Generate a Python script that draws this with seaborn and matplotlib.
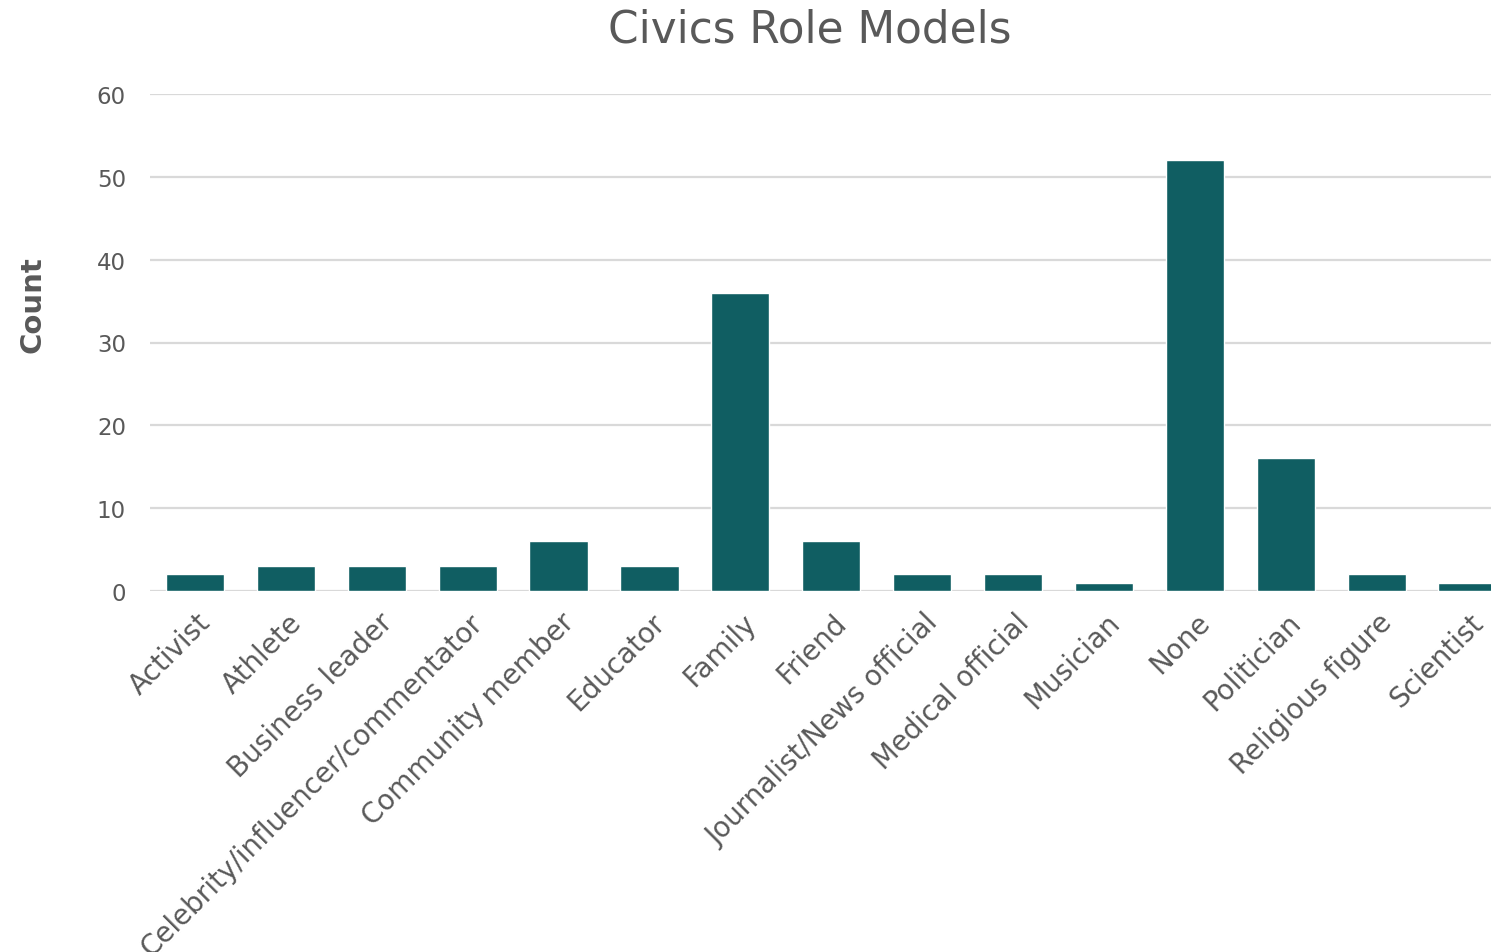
import pandas as pd
import matplotlib
matplotlib.use("Agg")
import matplotlib.pyplot as plt
import matplotlib.transforms as mtransforms
import seaborn as sns

# categorias e contagens
categorias = ["Activist", "Athlete", "Business leader", "Celebrity/influencer/commentator",
              "Community member", "Educator", "Family", "Friend", "Journalist/News official",
              "Medical official", "Musician", "None", "Politician", "Religious figure", "Scientist"]
contagens = [2, 3, 3, 3, 6, 3, 36, 6, 2, 2, 1, 52, 16, 2, 1]
y_ticks = [0, 10, 20, 30, 40, 50, 60]

df = pd.DataFrame({"Categoria": categorias, "Count": contagens})

sns.set_theme(style="white")
plt.rcParams["font.family"] = ["DejaVu Sans"]

cinza = "#595959"
fig = plt.figure(figsize=(14.91, 9.53), dpi=100)
ax = fig.add_axes([149.5 / 1491, 1 - 592 / 953, (1513 - 149.5) / 1491, (592 - 95) / 953])

sns.barplot(data=df, x="Categoria", y="Count", color="#105e62", width=0.64,
            saturation=1, ax=ax, zorder=3)

ax.set_ylim(0, 60)
ax.set_xlim(-0.5, len(categorias) - 0.5)
ax.set_yticks(y_ticks)
ax.yaxis.grid(True, color="#d9d9d9", linewidth=1.6, zorder=0)
ax.set_axisbelow(True)
for s in ax.spines.values():
    s.set_visible(False)
ax.tick_params(axis="y", length=0, pad=17, labelsize=16.5, labelcolor=cinza)
ax.tick_params(axis="x", length=0, pad=12, labelsize=20, labelcolor=cinza)
ax.set_xticks(range(len(categorias)))
ax.set_xticklabels(categorias, rotation=45, ha="right", va="top", rotation_mode="anchor")
# pequeno deslocamento para a direita
desloc = mtransforms.ScaledTranslation(1 / 72, 0, fig.dpi_scale_trans)
for lbl in ax.get_xticklabels():
    lbl.set_transform(lbl.get_transform() + desloc)
ax.set_xlabel("")
ax.set_ylabel("")

fig.text(810 / 1491, 1 - 30 / 953, "Civics Role Models", ha="center", va="center",
         fontsize=31.5, color=cinza)
fig.text(33 / 1491, 1 - 305 / 953, "Count", ha="center", va="center", rotation=90,
         fontsize=21, fontweight="bold", color=cinza)

plt.savefig("out.png", dpi=100)
